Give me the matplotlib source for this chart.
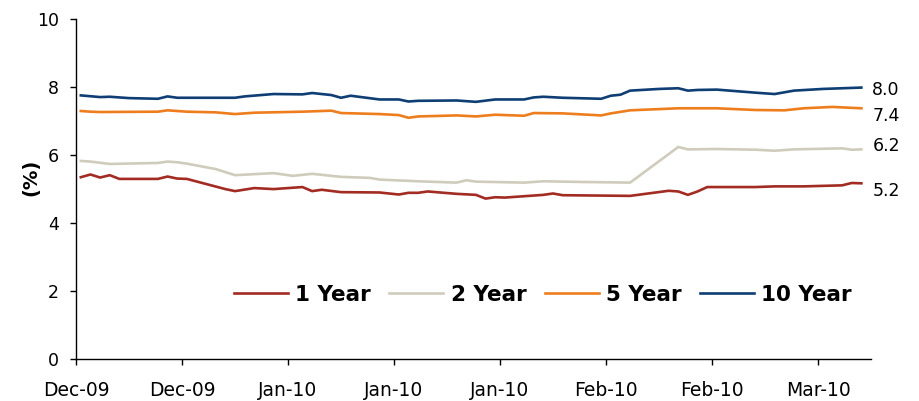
import matplotlib
matplotlib.use("Agg")
import matplotlib.pyplot as plt
import matplotlib.dates as mdates
import pandas as pd

plt.rcParams["font.family"] = ["DejaVu Sans"]

# Yield curve points (%) by trading date
dates_1y = ["2009-12-18", "2009-12-19", "2009-12-20", "2009-12-21", "2009-12-22",
            "2009-12-26", "2009-12-27", "2009-12-28", "2009-12-29", "2010-01-02",
            "2010-01-03", "2010-01-05", "2010-01-07", "2010-01-10", "2010-01-11",
            "2010-01-12", "2010-01-14", "2010-01-18", "2010-01-20", "2010-01-21",
            "2010-01-22", "2010-01-23", "2010-01-26", "2010-01-28", "2010-01-29",
            "2010-01-30", "2010-01-31", "2010-02-04", "2010-02-05", "2010-02-06",
            "2010-02-13", "2010-02-17", "2010-02-18", "2010-02-19", "2010-02-20",
            "2010-02-21", "2010-02-26", "2010-02-28", "2010-03-03", "2010-03-07",
            "2010-03-08", "2010-03-09"]
yield_1y = [5.34, 5.42, 5.33, 5.40, 5.29,
            5.29, 5.36, 5.30, 5.29, 4.99,
            4.93, 5.02, 4.99, 5.05, 4.93,
            4.97, 4.90, 4.89, 4.83, 4.88,
            4.88, 4.92, 4.85, 4.82, 4.71,
            4.75, 4.74, 4.82, 4.86, 4.81,
            4.79, 4.94, 4.92, 4.82, 4.92,
            5.05, 5.05, 5.07, 5.07, 5.10,
            5.17, 5.16]

dates_2y = ["2009-12-18", "2009-12-19", "2009-12-21", "2009-12-26", "2009-12-27",
            "2009-12-28", "2009-12-29", "2010-01-01", "2010-01-03", "2010-01-07",
            "2010-01-09", "2010-01-11", "2010-01-14", "2010-01-17", "2010-01-18",
            "2010-01-22", "2010-01-26", "2010-01-27", "2010-01-28", "2010-02-02",
            "2010-02-04", "2010-02-08", "2010-02-13", "2010-02-18", "2010-02-19",
            "2010-02-22", "2010-02-26", "2010-02-28", "2010-03-02", "2010-03-07",
            "2010-03-08", "2010-03-09"]
yield_2y = [5.82, 5.80, 5.73, 5.76, 5.80,
            5.78, 5.74, 5.58, 5.40, 5.46,
            5.38, 5.44, 5.35, 5.32, 5.27,
            5.22, 5.18, 5.25, 5.21, 5.18,
            5.22, 5.20, 5.18, 6.23, 6.16,
            6.17, 6.15, 6.12, 6.16, 6.19,
            6.15, 6.16]

dates_5y = ["2009-12-18", "2009-12-19", "2009-12-20", "2009-12-26", "2009-12-27",
            "2009-12-29", "2010-01-01", "2010-01-03", "2010-01-05", "2010-01-10",
            "2010-01-13", "2010-01-14", "2010-01-18", "2010-01-20", "2010-01-21",
            "2010-01-22", "2010-01-26", "2010-01-28", "2010-01-30", "2010-02-02",
            "2010-02-03", "2010-02-06", "2010-02-10", "2010-02-11", "2010-02-13",
            "2010-02-18", "2010-02-22", "2010-02-26", "2010-03-01", "2010-03-03",
            "2010-03-06", "2010-03-09"]
yield_5y = [7.29, 7.27, 7.26, 7.27, 7.31,
            7.27, 7.25, 7.20, 7.24, 7.27,
            7.30, 7.23, 7.20, 7.17, 7.09,
            7.13, 7.16, 7.13, 7.18, 7.15,
            7.23, 7.22, 7.16, 7.22, 7.31,
            7.37, 7.37, 7.32, 7.31, 7.37,
            7.41, 7.37]

dates_10y = ["2009-12-18", "2009-12-20", "2009-12-21", "2009-12-23", "2009-12-26",
             "2009-12-27", "2009-12-28", "2010-01-03", "2010-01-04", "2010-01-07",
             "2010-01-10", "2010-01-11", "2010-01-13", "2010-01-14", "2010-01-15",
             "2010-01-18", "2010-01-20", "2010-01-21", "2010-01-22", "2010-01-26",
             "2010-01-28", "2010-01-30", "2010-02-02", "2010-02-03", "2010-02-04",
             "2010-02-06", "2010-02-10", "2010-02-11", "2010-02-12", "2010-02-13",
             "2010-02-16", "2010-02-18", "2010-02-19", "2010-02-20", "2010-02-22",
             "2010-02-26", "2010-02-28", "2010-03-02", "2010-03-05", "2010-03-07",
             "2010-03-09"]
yield_10y = [7.75, 7.70, 7.71, 7.67, 7.65,
             7.72, 7.68, 7.68, 7.72, 7.79,
             7.78, 7.82, 7.76, 7.68, 7.74,
             7.63, 7.63, 7.57, 7.59, 7.60,
             7.56, 7.63, 7.63, 7.69, 7.71,
             7.68, 7.65, 7.74, 7.77, 7.89,
             7.94, 7.96, 7.89, 7.91, 7.92,
             7.83, 7.79, 7.89, 7.94, 7.96,
             7.98]

series_names = ["1 Year", "2 Year", "5 Year", "10 Year"]
series_colors = ["#A22B22", "#D0CCBC", "#EE7D1E", "#0E3E74"]
label_offsets = [-8, 3, -8, -2]  # vertical nudge of end labels, pixels

axis_start = pd.Timestamp("2009-12-18")
tick_step_days = 11
n_ticks = 8
axis_span_days = 82.5

fig = plt.figure(figsize=(9.2, 4.01), dpi=100)
ax = fig.add_axes([76 / 920, 1 - 358.5 / 401, 795 / 920, 339.5 / 401])

all_dates = [dates_1y, dates_2y, dates_5y, dates_10y]
all_vals = [yield_1y, yield_2y, yield_5y, yield_10y]
handles = []
for d, v, name, col, off in zip(all_dates, all_vals, series_names, series_colors, label_offsets):
    x = pd.to_datetime(d) + pd.Timedelta(hours=12)
    h, = ax.plot(x, v, color=col, lw=1.9, label=name, solid_joinstyle="round")
    handles.append(h)
    ax.annotate(f"{v[-1]:.1f}", xy=(x[-1], v[-1]), xytext=(11, off),
                textcoords="offset pixels", ha="left", va="center",
                fontsize=12.5, color="black", annotation_clip=False)

ax.set_ylim(0, 10)
ax.set_yticks(range(0, 11, 2))
ax.set_xlim(axis_start, axis_start + pd.Timedelta(days=axis_span_days))
ax.set_xticks([axis_start + pd.Timedelta(days=tick_step_days * k) for k in range(n_ticks)])
ax.xaxis.set_major_formatter(mdates.DateFormatter("%b-%y"))

for side in ("top", "right"):
    ax.spines[side].set_visible(False)
for side in ("left", "bottom"):
    ax.spines[side].set_linewidth(1.0)
ax.tick_params(axis="y", direction="out", length=4.5, width=1, pad=8, labelsize=12.5)
ax.tick_params(axis="x", direction="out", length=4.5, width=1, pad=12, labelsize=13.5)

fig.text(31 / 920, 1 - 177 / 401, "(%)", rotation=90, ha="center", va="center",
         fontsize=14, fontweight="bold")

leg = ax.legend(handles=handles, ncol=4, frameon=False, loc="center left",
                bbox_to_anchor=((234 - 76) / 795, (358.5 - 295) / 339.5),
                borderaxespad=0, borderpad=0, handlelength=2.5,
                handletextpad=0.35, columnspacing=0.85,
                prop={"weight": "bold", "size": 15.5})

fig.savefig("out.png", dpi=100)
